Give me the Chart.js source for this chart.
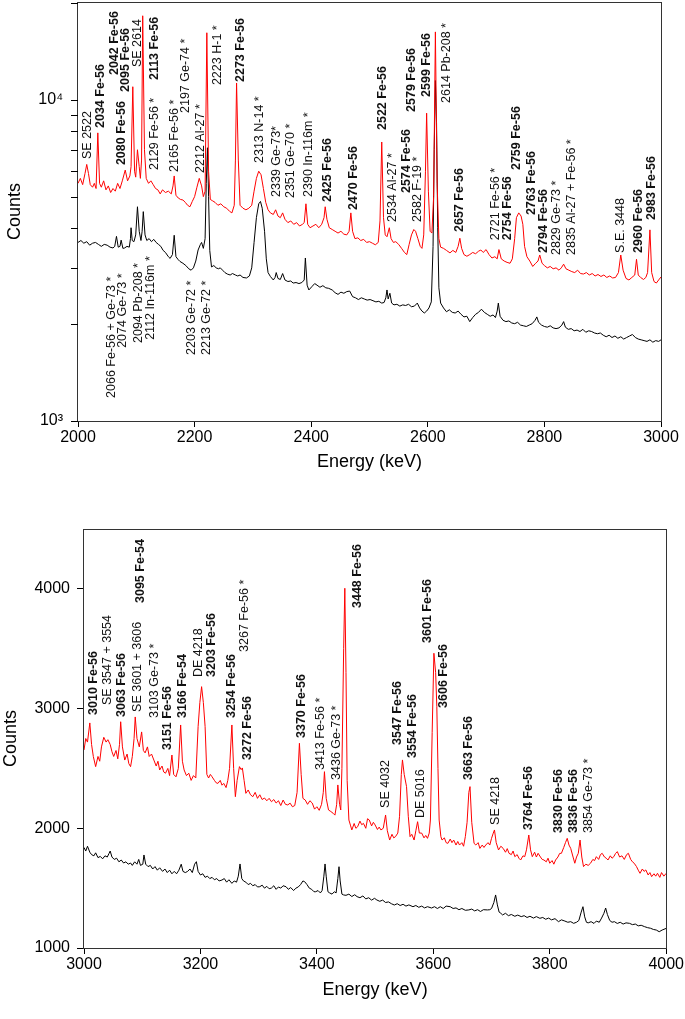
<!DOCTYPE html>
<html>
<head>
<meta charset="utf-8">
<script src="https://cdn.jsdelivr.net/npm/chart.js@4.4.0/dist/chart.umd.min.js"></script>
<style>
    html, body { margin: 0; padding: 0; background: #fff; }
    #wrap { position: relative; width: 685px; height: 1019px; }
    canvas { position: absolute; left: 0; }
</style>
</head>
<body>
<div id="wrap">
    <canvas id="topChart" width="685" height="490" style="top:0"></canvas>
    <canvas id="bottomChart" width="685" height="529" style="top:490px"></canvas>
</div>
<script>
// spectra, [energy keV, counts]
const topRedSpectrum = [
    [2000, 5500], [2004, 5700], [2008, 5450], [2012, 5900], [2015, 6300], [2018, 5900], [2021, 5450], [2025, 5350],
    [2028, 5500], [2031, 5300], [2034, 7900], [2037, 5500], [2040, 5350], [2044, 5600], [2048, 5250], [2052, 5400],
    [2056, 5150], [2060, 5300], [2064, 5200], [2068, 5500], [2072, 5300], [2076, 5600], [2081, 6050], [2085, 5600],
    [2089, 5800], [2091, 6200], [2094, 11000], [2097, 6000], [2099, 5750], [2102, 7000], [2105, 6200], [2107, 5700],
    [2109, 6500], [2111, 18300], [2114, 7000], [2117, 5700], [2121, 5500], [2125, 5600], [2129, 5450], [2133, 5300],
    [2137, 5250], [2141, 5100], [2145, 5250], [2150, 5150], [2155, 5200], [2160, 5100], [2163, 5400], [2165, 5800],
    [2168, 5050], [2172, 4950], [2176, 4900], [2180, 4880], [2184, 4800], [2188, 4700], [2192, 4650], [2196, 4830],
    [2200, 5000], [2204, 5350], [2208, 5700], [2212, 5400], [2215, 5000], [2218, 5200], [2221, 16200], [2224, 6000],
    [2227, 4900], [2231, 4850], [2235, 4800], [2240, 4700], [2245, 4750], [2250, 4650], [2255, 4600], [2260, 4500],
    [2264, 4450], [2268, 4700], [2270, 6500], [2272, 11300], [2275, 6500], [2278, 4700], [2283, 4600], [2288, 4550],
    [2293, 4600], [2298, 4700], [2302, 5200], [2306, 5700], [2310, 6000], [2314, 5850], [2318, 5300], [2322, 4800],
    [2326, 4550], [2330, 4450], [2335, 4400], [2339, 4550], [2343, 4350], [2347, 4300], [2351, 4450], [2355, 4250],
    [2360, 4150], [2365, 4200], [2370, 4100], [2375, 4150], [2380, 4050], [2385, 4100], [2388, 4150], [2391, 4750],
    [2394, 4100], [2398, 4000], [2403, 4050], [2408, 4100], [2413, 4000], [2418, 4100], [2422, 4300], [2424, 4650],
    [2427, 4250], [2431, 4000], [2436, 3950], [2441, 3900], [2446, 3850], [2451, 3900], [2456, 3820], [2461, 3800],
    [2465, 3900], [2468, 4450], [2471, 3900], [2475, 3700], [2480, 3720], [2485, 3650], [2490, 3680], [2495, 3600],
    [2500, 3620], [2505, 3580], [2510, 3540], [2515, 3600], [2518, 4200], [2521, 7400], [2524, 4300], [2527, 3800],
    [2530, 3750], [2534, 4000], [2537, 3700], [2541, 3600], [2545, 3620], [2550, 3550], [2555, 3450], [2560, 3350],
    [2564, 3300], [2568, 3550], [2572, 3800], [2576, 3950], [2579, 3900], [2583, 3700], [2587, 3500], [2590, 3450],
    [2593, 3800], [2596, 6000], [2598, 9100], [2601, 5200], [2604, 3900], [2607, 3850], [2610, 5000], [2613, 16300],
    [2616, 5500], [2619, 3700], [2622, 3480], [2627, 3450], [2632, 3400], [2638, 3340], [2643, 3400], [2648, 3350],
    [2652, 3500], [2655, 3710], [2658, 3450], [2662, 3300], [2667, 3260], [2672, 3300], [2677, 3350], [2682, 3320],
    [2687, 3380], [2691, 3410], [2695, 3350], [2700, 3420], [2705, 3300], [2710, 3220], [2715, 3250], [2719, 3200],
    [2722, 3420], [2726, 3200], [2731, 3150], [2736, 3120], [2741, 3100], [2745, 3200], [2749, 3700], [2752, 4300],
    [2756, 4450], [2760, 4350], [2763, 4100], [2766, 3500], [2770, 3250], [2775, 3150], [2780, 3030], [2785, 3100],
    [2789, 3150], [2792, 3290], [2796, 3100], [2800, 3050], [2805, 3000], [2810, 3030], [2815, 2980], [2820, 3000],
    [2825, 2950], [2829, 3000], [2833, 3080], [2837, 2980], [2842, 2950], [2847, 2920], [2852, 2900], [2857, 2950],
    [2862, 2880], [2867, 2870], [2872, 2900], [2877, 2850], [2882, 2880], [2887, 2830], [2892, 2860], [2897, 2820],
    [2902, 2850], [2907, 2800], [2912, 2830], [2917, 2790], [2922, 2800], [2927, 2900], [2931, 3290], [2935, 2950],
    [2940, 2780], [2945, 2750], [2950, 2800], [2955, 2850], [2958, 3190], [2961, 2850], [2965, 2800], [2970, 2760],
    [2974, 2800], [2977, 2900], [2981, 3940], [2984, 2900], [2988, 2720], [2992, 2690], [2996, 2750], [3000, 2810]
];

const topBlackSpectrum = [
    [2000, 3600], [2005, 3650], [2010, 3580], [2015, 3620], [2020, 3530], [2025, 3580], [2030, 3600], [2035, 3550],
    [2040, 3500], [2045, 3550], [2050, 3530], [2055, 3480], [2060, 3460], [2063, 3500], [2066, 3760], [2069, 3480],
    [2072, 3500], [2074, 3660], [2077, 3450], [2080, 3460], [2084, 3500], [2088, 3480], [2090, 3700], [2091, 4000],
    [2093, 3650], [2096, 3620], [2099, 3800], [2102, 4650], [2105, 3900], [2108, 3650], [2110, 3900], [2112, 4490],
    [2115, 3800], [2118, 3650], [2122, 3700], [2126, 3620], [2130, 3680], [2134, 3600], [2138, 3550], [2142, 3500],
    [2146, 3400], [2150, 3350], [2155, 3250], [2158, 3210], [2162, 3300], [2165, 3790], [2168, 3250], [2172, 3180],
    [2175, 3140], [2180, 3100], [2185, 3050], [2190, 2980], [2194, 2950], [2198, 3000], [2202, 3150], [2206, 3410],
    [2210, 3550], [2212, 3600], [2215, 3450], [2218, 3700], [2220, 5500], [2222, 7100], [2224, 5000], [2226, 3400],
    [2229, 3020], [2233, 3050], [2237, 3000], [2241, 2980], [2244, 3000], [2248, 2950], [2252, 2900], [2256, 2870],
    [2261, 2850], [2265, 2880], [2270, 2850], [2274, 2830], [2278, 2850], [2283, 2800], [2289, 2790], [2294, 2830],
    [2298, 3000], [2302, 3600], [2306, 4300], [2310, 4750], [2313, 4830], [2316, 4600], [2320, 3900], [2323, 3200],
    [2326, 2900], [2330, 2820], [2335, 2750], [2338, 2800], [2340, 2900], [2343, 2780], [2347, 2760], [2351, 2880],
    [2355, 2750], [2360, 2720], [2365, 2730], [2369, 2690], [2374, 2700], [2379, 2680], [2384, 2700], [2388, 2750],
    [2390, 3220], [2393, 2650], [2396, 2560], [2401, 2620], [2406, 2680], [2410, 2650], [2415, 2610], [2420, 2640],
    [2425, 2600], [2430, 2590], [2436, 2560], [2441, 2510], [2446, 2480], [2451, 2520], [2456, 2500], [2461, 2530],
    [2466, 2540], [2471, 2440], [2476, 2420], [2481, 2390], [2486, 2420], [2491, 2400], [2496, 2380], [2501, 2390],
    [2506, 2370], [2511, 2350], [2516, 2360], [2521, 2330], [2525, 2340], [2528, 2420], [2530, 2560], [2532, 2400],
    [2535, 2500], [2538, 2330], [2542, 2300], [2547, 2310], [2552, 2280], [2557, 2300], [2562, 2290], [2567, 2310],
    [2572, 2270], [2577, 2280], [2582, 2330], [2586, 2250], [2590, 2200], [2594, 2170], [2598, 2200], [2602, 2250],
    [2606, 2350], [2609, 3500], [2611, 7000], [2613, 11500], [2615, 8500], [2617, 4000], [2619, 2600], [2622, 2330],
    [2627, 2250], [2632, 2190], [2637, 2220], [2642, 2180], [2647, 2170], [2652, 2200], [2657, 2150], [2662, 2110],
    [2667, 2120], [2672, 2040], [2677, 2100], [2682, 2150], [2687, 2180], [2692, 2230], [2697, 2180], [2702, 2150],
    [2707, 2120], [2712, 2140], [2716, 2100], [2719, 2200], [2721, 2330], [2724, 2120], [2729, 2060], [2734, 2040],
    [2739, 2050], [2744, 2020], [2749, 2010], [2754, 2030], [2759, 1990], [2764, 1980], [2769, 1970], [2774, 1990],
    [2779, 2010], [2784, 2060], [2787, 2110], [2790, 2030], [2795, 1990], [2800, 1970], [2805, 1960], [2810, 1980],
    [2815, 1950], [2820, 1940], [2825, 1950], [2830, 1990], [2833, 2040], [2836, 1960], [2841, 1930], [2846, 1940],
    [2851, 1910], [2856, 1920], [2861, 1900], [2866, 1930], [2871, 1890], [2876, 1910], [2881, 1900], [2886, 1880],
    [2891, 1870], [2896, 1880], [2901, 1850], [2906, 1830], [2911, 1850], [2916, 1820], [2921, 1840], [2926, 1810],
    [2931, 1830], [2936, 1800], [2941, 1820], [2946, 1840], [2951, 1860], [2956, 1820], [2961, 1800], [2966, 1790],
    [2971, 1780], [2976, 1770], [2981, 1790], [2986, 1760], [2991, 1780], [2996, 1770], [3000, 1790]
];

const bottomRedSpectrum = [
    [3000, 2654], [3003, 2750], [3006, 2720], [3010, 2880], [3013, 2700], [3016, 2600], [3020, 2515], [3024, 2600],
    [3027, 2560], [3030, 2680], [3034, 2760], [3038, 2720], [3041, 2740], [3045, 2700], [3048, 2640], [3051, 2600],
    [3055, 2650], [3058, 2580], [3061, 2700], [3063, 2890], [3066, 2680], [3070, 2570], [3074, 2620], [3077, 2540],
    [3080, 2515], [3083, 2600], [3086, 2750], [3088, 2930], [3091, 2750], [3095, 2680], [3099, 2805], [3102, 2650],
    [3105, 2630], [3109, 2680], [3112, 2600], [3116, 2620], [3120, 2570], [3124, 2520], [3127, 2560], [3130, 2487],
    [3134, 2520], [3137, 2470], [3140, 2460], [3144, 2500], [3147, 2440], [3151, 2612], [3154, 2450], [3158, 2430],
    [3162, 2500], [3166, 2863], [3169, 2560], [3172, 2487], [3176, 2440], [3180, 2460], [3184, 2400], [3188, 2440],
    [3192, 2420], [3196, 2850], [3199, 3050], [3202, 3183], [3205, 3050], [3208, 2850], [3211, 2450], [3214, 2420],
    [3217, 2450], [3220, 2430], [3224, 2400], [3227, 2380], [3230, 2375], [3234, 2400], [3237, 2360], [3240, 2375],
    [3244, 2340], [3247, 2400], [3250, 2500], [3254, 2863], [3257, 2500], [3260, 2264], [3263, 2400], [3267, 2515],
    [3270, 2490], [3272, 2504], [3275, 2400], [3278, 2292], [3282, 2320], [3286, 2280], [3290, 2264], [3294, 2300],
    [3298, 2250], [3302, 2280], [3306, 2240], [3310, 2253], [3314, 2230], [3318, 2250], [3322, 2222], [3326, 2240],
    [3330, 2211], [3334, 2230], [3338, 2190], [3342, 2236], [3346, 2200], [3350, 2195], [3354, 2210], [3358, 2180],
    [3362, 2190], [3366, 2300], [3370, 2710], [3373, 2450], [3376, 2250], [3380, 2236], [3384, 2200], [3388, 2230],
    [3392, 2211], [3396, 2160], [3400, 2180], [3404, 2150], [3408, 2200], [3411, 2300], [3413, 2473], [3416, 2250],
    [3420, 2153], [3424, 2140], [3428, 2125], [3431, 2110], [3434, 2200], [3436, 2362], [3439, 2200], [3441, 2153],
    [3443, 2500], [3446, 3500], [3448, 4005], [3450, 3300], [3452, 2400], [3455, 2069], [3458, 2020], [3460, 1986],
    [3464, 2040], [3467, 2000], [3470, 2013], [3474, 2060], [3477, 2030], [3480, 2041], [3484, 2000], [3487, 2080],
    [3490, 2069], [3494, 2020], [3497, 2050], [3500, 2028], [3504, 1990], [3507, 2010], [3510, 1986], [3514, 2000],
    [3518, 2111], [3521, 1980], [3525, 1902], [3529, 1950], [3532, 1920], [3535, 1930], [3539, 1960], [3542, 2100],
    [3545, 2450], [3547, 2571], [3550, 2450], [3554, 2348], [3557, 2100], [3560, 1930], [3563, 1950], [3567, 1902],
    [3570, 1980], [3573, 2055], [3576, 1960], [3580, 1960], [3584, 1920], [3587, 1940], [3590, 1916], [3593, 1960],
    [3595, 2069], [3598, 2800], [3601, 3462], [3604, 3300], [3606, 3016], [3608, 2500], [3610, 2069], [3613, 1930],
    [3615, 1902], [3619, 1920], [3622, 1880], [3625, 1874], [3629, 1910], [3632, 1880], [3635, 1902], [3639, 1860],
    [3642, 1890], [3645, 1860], [3649, 1880], [3652, 1850], [3655, 1930], [3658, 2050], [3661, 2300], [3663, 2348],
    [3666, 2050], [3670, 1874], [3673, 1860], [3677, 1880], [3680, 1832], [3684, 1860], [3687, 1840], [3690, 1860],
    [3694, 1880], [3697, 1860], [3700, 1916], [3703, 1960], [3705, 1986], [3708, 1880], [3712, 1819], [3716, 1850],
    [3720, 1832], [3724, 1800], [3727, 1830], [3730, 1791], [3734, 1780], [3737, 1810], [3740, 1763], [3744, 1780],
    [3747, 1750], [3750, 1735], [3754, 1770], [3757, 1763], [3760, 1820], [3764, 1944], [3767, 1820], [3770, 1763],
    [3774, 1800], [3777, 1760], [3780, 1791], [3784, 1760], [3787, 1740], [3790, 1735], [3794, 1720], [3797, 1750],
    [3800, 1708], [3804, 1730], [3807, 1700], [3810, 1735], [3814, 1760], [3817, 1790], [3820, 1791], [3824, 1840],
    [3827, 1880], [3830, 1916], [3833, 1860], [3836, 1832], [3840, 1760], [3843, 1708], [3846, 1760], [3849, 1791],
    [3852, 1902], [3855, 1760], [3858, 1680], [3862, 1700], [3866, 1690], [3870, 1708], [3874, 1740], [3877, 1730],
    [3880, 1763], [3884, 1740], [3887, 1780], [3890, 1791], [3894, 1760], [3897, 1750], [3900, 1735], [3904, 1770],
    [3907, 1750], [3910, 1763], [3913, 1790], [3916, 1805], [3920, 1760], [3924, 1770], [3928, 1740], [3932, 1780],
    [3935, 1791], [3939, 1740], [3942, 1720], [3945, 1708], [3949, 1680], [3952, 1650], [3955, 1624], [3959, 1660],
    [3962, 1640], [3965, 1652], [3969, 1610], [3972, 1630], [3975, 1596], [3979, 1620], [3982, 1600], [3985, 1624],
    [3989, 1590], [3992, 1630], [3996, 1600], [4000, 1624]
];

const bottomBlackSpectrum = [
    [3000, 1840], [3003, 1810], [3006, 1850], [3010, 1800], [3013, 1780], [3017, 1770], [3020, 1795], [3024, 1755],
    [3028, 1765], [3032, 1745], [3036, 1770], [3040, 1760], [3043, 1790], [3045, 1810], [3048, 1760], [3052, 1740],
    [3056, 1750], [3060, 1720], [3064, 1735], [3068, 1710], [3072, 1720], [3076, 1700], [3080, 1710], [3083, 1690],
    [3087, 1720], [3091, 1700], [3094, 1740], [3097, 1690], [3101, 1700], [3103, 1777], [3106, 1700], [3110, 1680],
    [3114, 1690], [3118, 1660], [3122, 1680], [3126, 1650], [3130, 1670], [3135, 1640], [3139, 1660], [3143, 1630],
    [3147, 1650], [3151, 1620], [3155, 1640], [3159, 1620], [3163, 1650], [3167, 1700], [3170, 1640], [3174, 1630],
    [3178, 1640], [3182, 1660], [3186, 1630], [3190, 1700], [3193, 1721], [3196, 1640], [3200, 1610], [3204, 1620],
    [3208, 1590], [3212, 1600], [3216, 1580], [3220, 1590], [3224, 1570], [3228, 1580], [3232, 1560], [3237, 1568],
    [3241, 1580], [3245, 1550], [3249, 1570], [3254, 1540], [3258, 1560], [3262, 1550], [3265, 1600], [3268, 1702],
    [3271, 1580], [3274, 1560], [3278, 1550], [3282, 1530], [3286, 1540], [3290, 1520], [3294, 1530], [3298, 1510],
    [3302, 1512], [3306, 1525], [3310, 1500], [3314, 1515], [3318, 1495], [3322, 1501], [3326, 1520], [3330, 1490],
    [3334, 1510], [3338, 1500], [3342, 1520], [3347, 1512], [3351, 1490], [3355, 1505], [3360, 1480], [3364, 1500],
    [3368, 1510], [3372, 1530], [3376, 1560], [3379, 1554], [3383, 1530], [3387, 1500], [3391, 1490], [3395, 1470],
    [3398, 1470], [3402, 1480], [3406, 1460], [3409, 1480], [3412, 1600], [3414, 1702], [3416, 1600], [3419, 1470],
    [3422, 1460], [3426, 1450], [3430, 1470], [3433, 1460], [3436, 1580], [3438, 1679], [3440, 1560], [3443, 1450],
    [3446, 1443], [3450, 1440], [3455, 1450], [3460, 1430], [3465, 1445], [3469, 1429], [3474, 1420], [3479, 1435],
    [3484, 1410], [3489, 1420], [3494, 1400], [3499, 1415], [3503, 1401], [3508, 1390], [3513, 1400], [3518, 1380],
    [3523, 1385], [3528, 1370], [3533, 1359], [3538, 1370], [3543, 1355], [3548, 1365], [3553, 1350], [3558, 1360],
    [3565, 1345], [3570, 1355], [3575, 1340], [3580, 1350], [3585, 1335], [3590, 1345], [3597, 1334], [3602, 1345],
    [3607, 1330], [3612, 1345], [3617, 1330], [3622, 1350], [3629, 1345], [3634, 1330], [3639, 1335], [3644, 1320],
    [3649, 1330], [3655, 1315], [3661, 1318], [3666, 1325], [3671, 1310], [3676, 1320], [3681, 1305], [3686, 1320],
    [3693, 1318], [3697, 1320], [3700, 1330], [3704, 1380], [3707, 1443], [3710, 1360], [3713, 1300], [3716, 1290],
    [3719, 1276], [3724, 1290], [3729, 1270], [3734, 1280], [3740, 1265], [3745, 1275], [3751, 1262], [3756, 1270],
    [3761, 1255], [3766, 1265], [3772, 1250], [3777, 1262], [3783, 1248], [3788, 1255], [3793, 1240], [3798, 1250],
    [3803, 1235], [3809, 1245], [3815, 1220], [3820, 1235], [3826, 1225], [3831, 1215], [3836, 1220], [3841, 1206],
    [3846, 1215], [3850, 1230], [3854, 1300], [3857, 1345], [3860, 1260], [3863, 1215], [3866, 1210], [3871, 1220],
    [3876, 1205], [3880, 1225], [3885, 1215], [3889, 1250], [3893, 1290], [3896, 1334], [3899, 1280], [3903, 1230],
    [3907, 1215], [3911, 1220], [3916, 1205], [3921, 1215], [3926, 1200], [3931, 1210], [3937, 1206], [3942, 1195],
    [3947, 1200], [3952, 1185], [3957, 1190], [3963, 1178], [3968, 1170], [3973, 1165], [3978, 1155], [3983, 1150],
    [3988, 1136], [3993, 1150], [4000, 1164]
];

// peak labels: text, energy, counts at the foot of the text, bold
const topPeakLabels = [
    ['SE 2522', 2017, 6550, false], ['2034 Fe-56', 2039, 8180, true], ['2042 Fe-56', 2062, 11960, true],
    ['2080 Fe-56', 2075, 6270, true], ['2095 Fe-56', 2082, 10600, true], ['SE 2614', 2102, 12670, false],
    ['2113 Fe-56', 2132, 11540, true], ['2129 Fe-56 *', 2132, 6050, false], ['2165 Fe-56 *', 2165, 5970, false],
    ['2197 Ge-74 *', 2184, 9110, false], ['2212 Al-27 *', 2210, 5925, false], ['2223 H-1 *', 2239, 11130, false],
    ['2273 Fe-56', 2278, 11380, true], ['2313 N-14 *', 2312, 6365, false], ['2339 Ge-73*', 2340, 4990, false],
    ['2351 Ge-70 *', 2365, 4950, false], ['2390 In-116m *', 2396, 4990, false], ['2425 Fe-56', 2428, 4810, true],
    ['2470 Fe-56', 2472, 4540, true], ['2522 Fe-56', 2523, 8065, true], ['2534 Al-27 *', 2539, 4170, false],
    ['2574 Fe-56', 2563, 5130, true], ['2579 Fe-56', 2572, 9180, true], ['2582 F-19 *', 2583, 4170, false],
    ['2599 Fe-56', 2598, 10220, true], ['2614 Pb-208 *', 2633, 9790, false], ['2657 Fe-56', 2655, 3880, true],
    ['2721 Fe-56 *', 2717, 3660, false], ['2754 Fe-56', 2737, 3660, true], ['2759 Fe-56', 2752, 6050, true],
    ['2763 Fe-56', 2778, 4380, true], ['2794 Fe-56', 2798, 3340, true], ['2829 Ge-73 *', 2821, 3290, false],
    ['2835 Al-27 + Fe-56 *', 2847, 3290, false], ['S.E. 3448', 2930, 3340, false], ['2960 Fe-56', 2961, 3340, true],
    ['2983 Fe-56', 2984, 4230, true],
    ['2066 Fe-56 + Ge-73 *', 2058, 1180, false], ['2074 Ge-73 *', 2077, 1690, false],
    ['2094 Pb-208 *', 2103, 1750, false], ['2112 In-116m *', 2124, 1790, false],
    ['2203 Ge-72 *', 2195, 1606, false], ['2213 Ge-72 *', 2221, 1606, false]
];

const bottomPeakLabels = [
    ['3010 Fe-56', 3016, 2947, true], ['SE 3547 + 3554', 3041, 3030, false], ['3063 Fe-56', 3065, 2930, true],
    ['SE 3601 + 3606', 3092, 2972, false], ['3095 Fe-54', 3097, 3882, true], ['3103 Ge-73 *', 3122, 2921, false],
    ['3151 Fe-56', 3144, 2654, true], ['3166 Fe-54', 3170, 2921, true], ['DE 4218', 3196, 3264, false],
    ['3203 Fe-56', 3219, 3264, true], ['3254 Fe-56', 3253, 2921, true], ['3267 Fe-56 *', 3276, 3473, false],
    ['3272 Fe-56', 3281, 2571, true], ['3370 Fe-56', 3373, 2754, true], ['3413 Fe-56 *', 3407, 2487, false],
    ['3436 Ge-73 *', 3433, 2404, false], ['3448 Fe-56', 3470, 3840, true], ['SE 4032', 3518, 2170, false],
    ['3547 Fe-56', 3538, 2696, true], ['3554 Fe-56', 3564, 2587, true], ['DE 5016', 3578, 2086, false],
    ['3601 Fe-56', 3590, 3548, true], ['3606 Fe-56', 3618, 3005, true], ['3663 Fe-56', 3661, 2404, true],
    ['SE 4218', 3707, 2028, false], ['3764 Fe-56', 3764, 1986, true], ['3830 Fe-56', 3815, 1961, true],
    ['3836 Fe-56', 3841, 1961, true], ['3854 Ge-73 *', 3866, 1961, false]
];

const topLogTicks = [1000, 2000, 3000, 4000, 5000, 6000, 7000, 8000, 9000, 10000, 20000];
const bottomCountTicks = [1000, 2000, 3000, 4000];

const FONT = '"Liberation Sans", Arial, Helvetica, sans-serif';
Chart.defaults.font.family = FONT;
Chart.defaults.color = '#000';

// box round the plot area
const frame = {
    id: 'frame',
    afterDatasetsDraw(chart) {
        const a = chart.chartArea;
        const ctx = chart.ctx;
        ctx.save();
        ctx.strokeStyle = '#333';
        ctx.lineWidth = 1;
        ctx.strokeRect(Math.round(a.left) - 0.5, Math.round(a.top) + 0.5,
            Math.round(a.right - a.left) + 1, Math.round(a.bottom - a.top));
        ctx.restore();
    }
};

// tick marks on the left edge for every value, labelled or not
function leftTicks(values, len) {
    return {
        id: 'leftTicks',
        afterDraw(chart) {
            const ctx = chart.ctx;
            const ys = chart.scales.y;
            const left = Math.round(chart.chartArea.left);
            ctx.save();
            ctx.strokeStyle = '#000';
            ctx.lineWidth = 1;
            ctx.beginPath();
            values.forEach(v => {
                if (v > ys.max) return;
                const py = Math.round(ys.getPixelForValue(v)) + 0.5;
                ctx.moveTo(left - len, py);
                ctx.lineTo(left, py);
            });
            ctx.stroke();
            ctx.restore();
        }
    };
}

function peakLabels(items) {
    return {
        id: 'peakLabels',
        afterDatasetsDraw(chart) {
            const ctx = chart.ctx;
            const xs = chart.scales.x;
            const ys = chart.scales.y;
            ctx.save();
            ctx.fillStyle = '#111';
            ctx.textAlign = 'left';
            ctx.textBaseline = 'middle';
            items.forEach(([text, e, c, bold]) => {
                ctx.font = (bold ? 'bold ' : '') + '12.5px ' + FONT;
                ctx.save();
                ctx.translate(xs.getPixelForValue(e), ys.getPixelForValue(c));
                ctx.rotate(-Math.PI / 2);
                ctx.fillText(text, 0, 0);
                ctx.restore();
            });
            ctx.restore();
        }
    };
}

function spectrumDataset(points, color) {
    return {
        data: points.map(([x, y]) => ({x, y})),
        borderColor: color,
        borderWidth: 1,
        pointRadius: 0,
        fill: false,
        tension: 0
    };
}

const plainNumber = v => String(v);

// keep the tick labels from pushing the plot area in
function noLabelPadding(s, width) {
    s.width = width;
    s.paddingTop = 0;
    s.paddingBottom = 0;
}

new Chart(document.getElementById('topChart'), {
    type: 'line',
    data: {
        datasets: [
            spectrumDataset(topRedSpectrum, '#ff0000'),
            spectrumDataset(topBlackSpectrum, '#000000')
        ]
    },
    options: {
        responsive: false,
        animation: false,
        devicePixelRatio: 1,
        layout: { padding: { top: 2, right: 24, left: 0, bottom: 0 } },
        plugins: { legend: { display: false }, tooltip: { enabled: false } },
        scales: {
            x: {
                type: 'linear', min: 2000, max: 3000,
                ticks: { stepSize: 200, font: { size: 16 }, padding: 1, maxRotation: 0, callback: plainNumber },
                grid: { drawOnChartArea: false, tickLength: 6, color: '#000' },
                border: { display: false },
                title: { display: true, text: 'Energy (keV)', font: { size: 18 }, padding: { top: 0, bottom: 17 } },
                afterFit(s) { s.height = 69; }
            },
            y: {
                type: 'logarithmic', min: 1000, max: 20200,
                afterBuildTicks(s) { s.ticks = [1000, 10000].map(v => ({ value: v })); },
                ticks: {
                    autoSkip: false, font: { size: 16 }, padding: 8,
                    callback: v => v === 1000 ? '10³' : (v === 10000 ? '10⁴' : '')
                },
                grid: { drawOnChartArea: false, tickLength: 7, color: '#000' },
                border: { display: false },
                title: { display: true, text: 'Counts', font: { size: 18 }, padding: { top: 4, bottom: 0 } },
                afterFit(s) { noLabelPadding(s, 78); }
            }
        }
    },
    plugins: [frame, leftTicks(topLogTicks, 7), peakLabels(topPeakLabels)]
});

new Chart(document.getElementById('bottomChart'), {
    type: 'line',
    data: {
        datasets: [
            spectrumDataset(bottomRedSpectrum, '#ff0000'),
            spectrumDataset(bottomBlackSpectrum, '#000000')
        ]
    },
    options: {
        responsive: false,
        animation: false,
        devicePixelRatio: 1,
        layout: { padding: { top: 39, right: 18, left: 0, bottom: 0 } },
        plugins: { legend: { display: false }, tooltip: { enabled: false } },
        scales: {
            x: {
                type: 'linear', min: 3000, max: 4000,
                ticks: { stepSize: 200, font: { size: 16 }, padding: 1, maxRotation: 0, callback: plainNumber },
                grid: { drawOnChartArea: false, tickLength: 6, color: '#000' },
                border: { display: false },
                title: { display: true, text: 'Energy (keV)', font: { size: 18 }, padding: { top: 0, bottom: 18 } },
                afterFit(s) { s.height = 71; }
            },
            y: {
                type: 'linear', min: 1000, max: 4500,
                afterBuildTicks(s) { s.ticks = bottomCountTicks.map(v => ({ value: v })); },
                ticks: { autoSkip: false, font: { size: 16 }, padding: 7, callback: plainNumber },
                grid: { drawOnChartArea: false, tickLength: 7, color: '#000' },
                border: { display: false },
                title: { display: true, text: 'Counts', font: { size: 18 }, padding: { top: 0, bottom: 0 } },
                afterFit(s) { noLabelPadding(s, 84); }
            }
        }
    },
    plugins: [frame, peakLabels(bottomPeakLabels)]
});
</script>
</body>
</html>
